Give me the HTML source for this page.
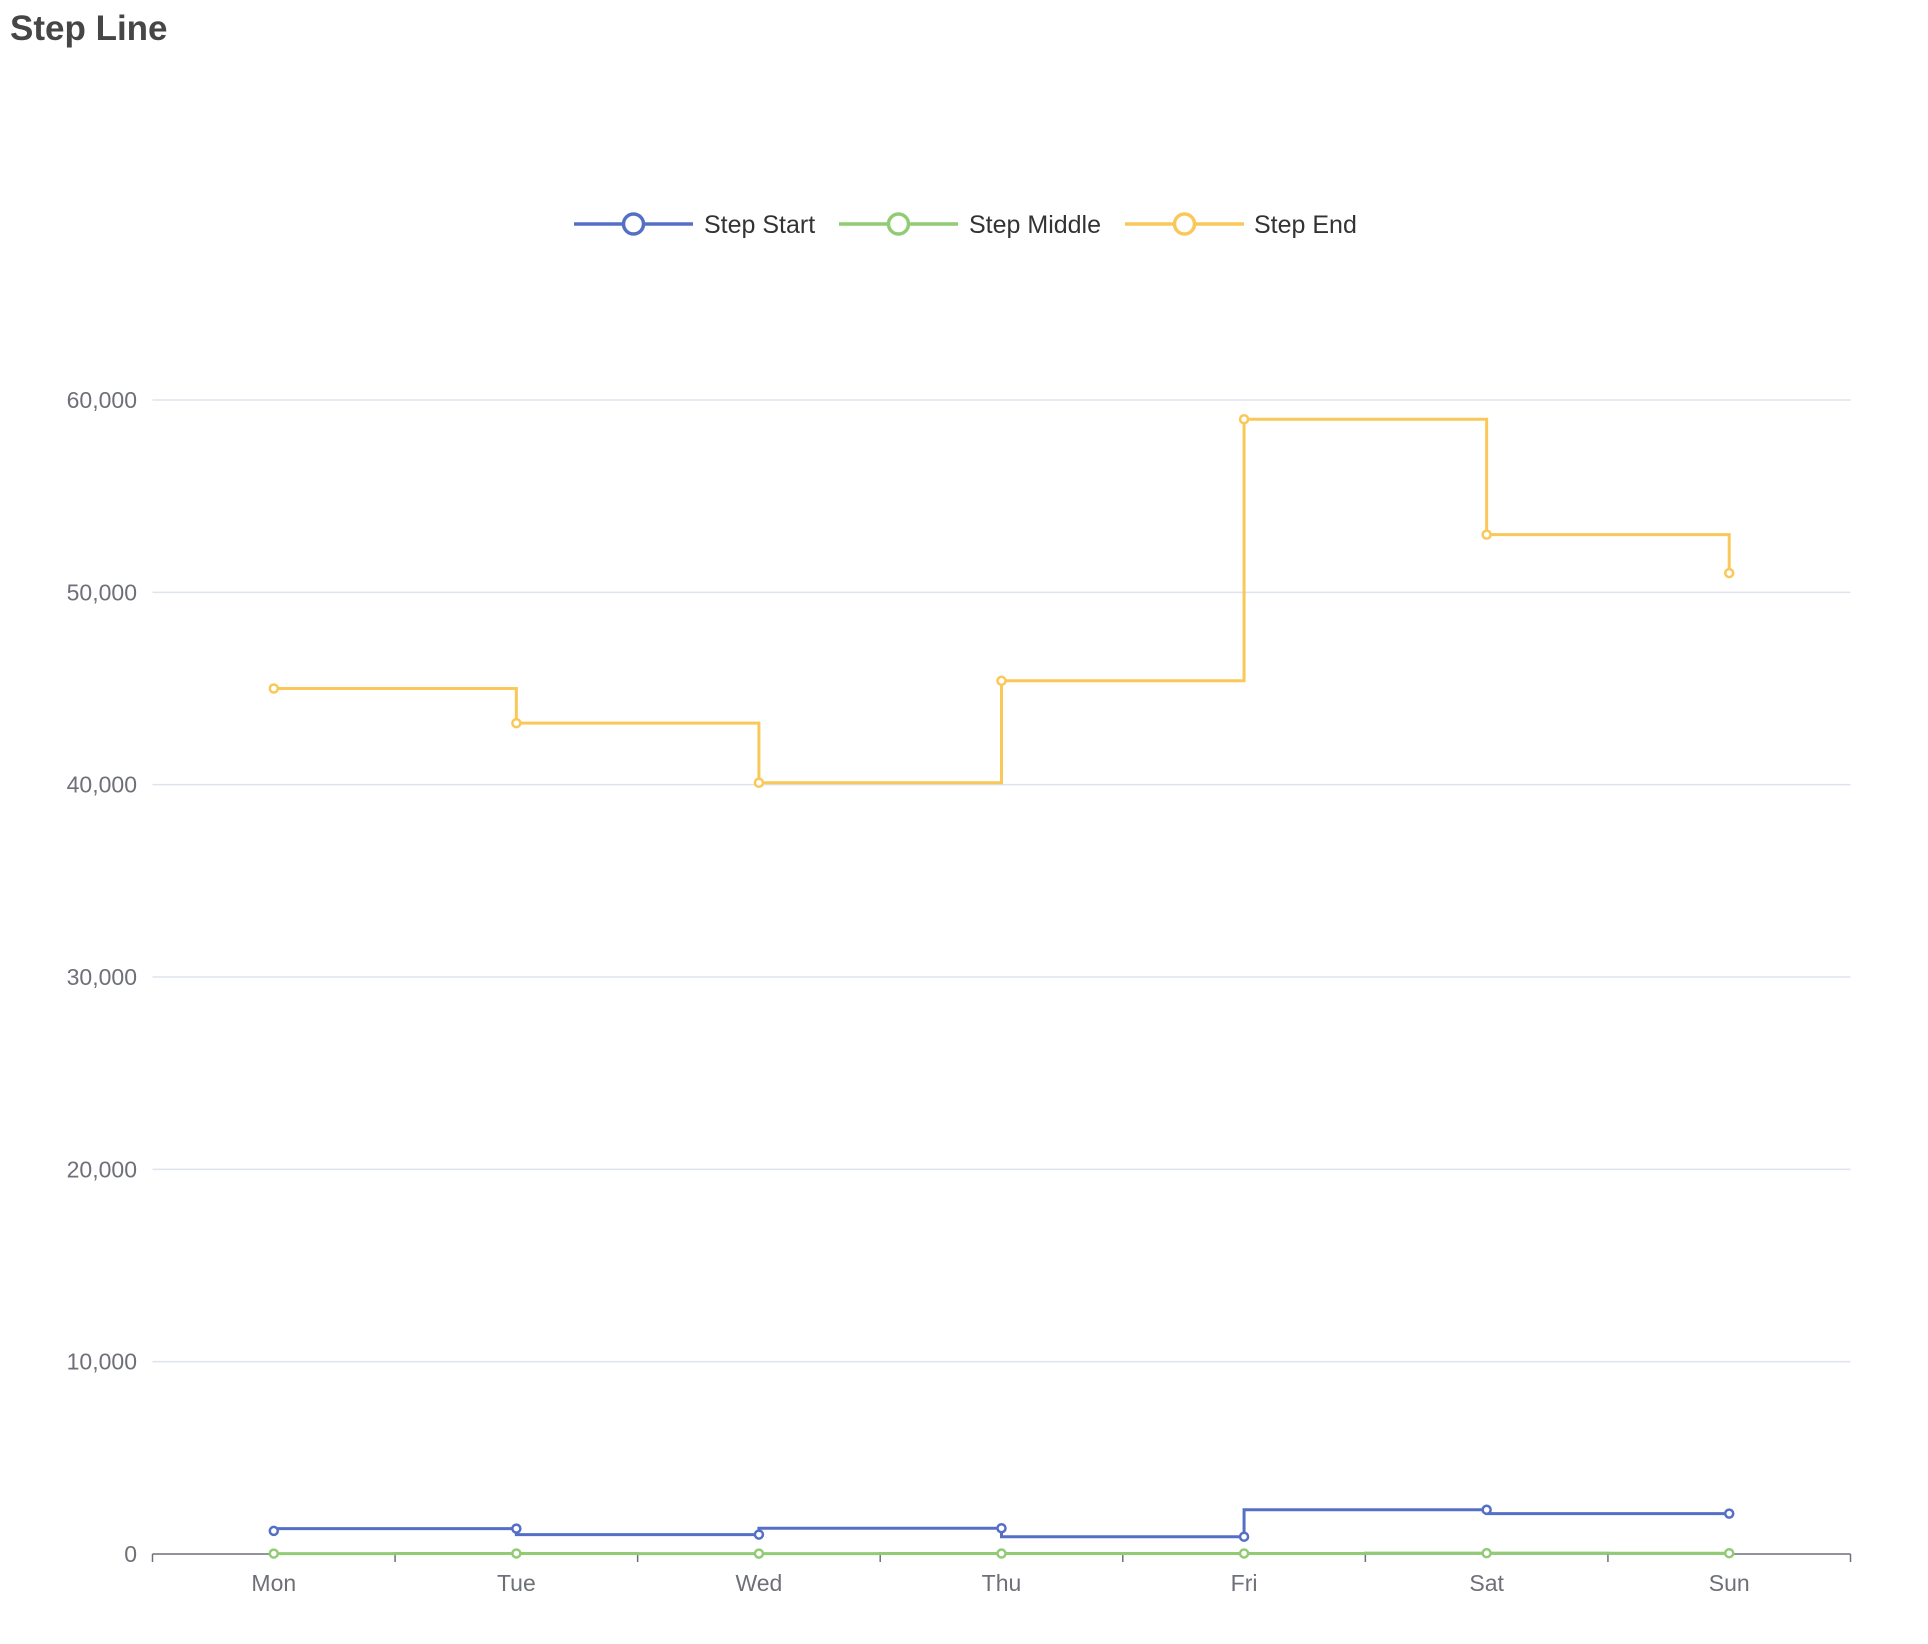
<!DOCTYPE html>
<html><head><meta charset="utf-8"><style>
html,body{margin:0;padding:0;background:#fff;}
svg{display:block;font-family:"Liberation Sans",sans-serif;}
</style></head><body>
<svg id="chart" width="1928" height="1644" viewBox="0 0 1928 1644" xmlns="http://www.w3.org/2000/svg">
<text x="10" y="40" font-size="35" font-weight="bold" fill="#464646">Step Line</text>
<g id="legend"></g>
<g id="grid"></g>
<g id="series"></g>
</svg>
<script>
const categories = ['Mon','Tue','Wed','Thu','Fri','Sat','Sun'];
const stepStart = [1200, 1320, 1010, 1340, 900, 2300, 2100];
const stepMiddle = [22, 28, 20, 23, 29, 43, 41];
const stepEnd = [45000, 43200, 40100, 45400, 59000, 53000, 51000];
const yTicks = [0, 10000, 20000, 30000, 40000, 50000, 60000];
const yTickLabels = ['0','10,000','20,000','30,000','40,000','50,000','60,000'];
const seriesNames = ['Step Start','Step Middle','Step End'];

const NS='http://www.w3.org/2000/svg';
const X0=152.5, X1=1850.5, Y0=1554, Ytop=400, YMAX=60000;
const band=(X1-X0)/categories.length;
function xPos(i){return X0+band*(i+0.5);}
function yPos(v){return Y0-(v/YMAX)*(Y0-Ytop);}
function mk(tag,attrs,parent){const e=document.createElementNS(NS,tag);for(const k in attrs)e.setAttribute(k,attrs[k]);parent.appendChild(e);return e;}
const grid=document.getElementById('grid');
yTicks.forEach((t,i)=>{
  const y=yPos(t);
  if(t!==0){
    const l=mk('line',{x1:X0,x2:X1,y1:y,y2:y,stroke:'#dde3ef','stroke-width':1.5},grid);
    
    
  }
  const tx=mk('text',{x:137,y:y+8,'text-anchor':'end','font-size':23,fill:'#6e7079'},grid);
  tx.textContent=yTickLabels[i];
  
  
});
const ax=mk('line',{x1:X0,x2:X1,y1:Y0,y2:Y0,stroke:'#6e7079','stroke-width':1.5},grid);


for(let k=0;k<=categories.length;k++){
  const x=X0+band*k;
  const tk=mk('line',{x1:x,x2:x,y1:Y0,y2:Y0+8,stroke:'#6e7079','stroke-width':1.5},grid);
  
  
}
categories.forEach((c,i)=>{
  const tx=mk('text',{x:xPos(i),y:Y0+37,'text-anchor':'middle','font-size':23,fill:'#6e7079'},grid);
  tx.textContent=c;
  
  
});
function stepPath(vals,mode){
  let d='';
  vals.forEach((v,i)=>{
    const x=xPos(i),y=yPos(v);
    if(i===0){d+='M'+x+' '+y;return;}
    const px=xPos(i-1),py=yPos(vals[i-1]);
    if(mode==='start'){d+=' L'+px+' '+y+' L'+x+' '+y;}
    else if(mode==='end'){d+=' L'+x+' '+py+' L'+x+' '+y;}
    else{const mx=(px+x)/2;d+=' L'+mx+' '+py+' L'+mx+' '+y+' L'+x+' '+y;}
  });
  return d;
}
const ser=document.getElementById('series');
const defs=[[stepStart,'start','#5470c6','step-start'],[stepMiddle,'middle','#91cc75','step-middle'],[stepEnd,'end','#fac858','step-end']];
defs.forEach(([vals,mode,col,name])=>{
  const g=mk('g',{},ser);
  
  
  const p=mk('path',{d:stepPath(vals,mode),fill:'none',stroke:col,'stroke-width':3},g);
  
  
  vals.forEach((v,i)=>{
    const c=mk('circle',{cx:xPos(i),cy:yPos(v),r:4,fill:'#fff',stroke:col,'stroke-width':2.5},g);
    
    
  });
});
const leg=document.getElementById('legend');
const legItems=[[574,'#5470c6',704],[839,'#91cc75',969],[1125,'#fac858',1254]];
legItems.forEach(([lx,col,tx],i)=>{
  const g=mk('g',{},leg);
  
  
  mk('line',{x1:lx,x2:lx+119,y1:224,y2:224,stroke:col,'stroke-width':3.5},g);
  mk('circle',{cx:lx+59.5,cy:224,r:10,fill:'#fff',stroke:col,'stroke-width':3.5},g);
  const t=mk('text',{x:tx,y:233,'font-size':25,fill:'#333'},g);
  t.textContent=seriesNames[i];
});
</script>
</body></html>
